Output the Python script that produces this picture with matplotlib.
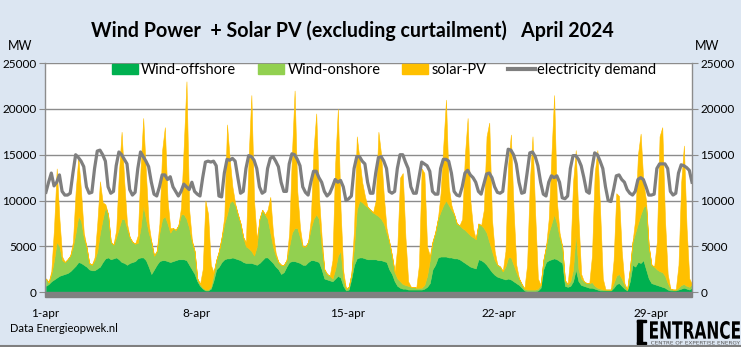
'''
Wind + solar production vs demand, April 2024 (3-hourly values read off the chart)
'''
import numpy as np
import matplotlib.pyplot as plt
from matplotlib.patches import Patch, Rectangle, PathPatch
from matplotlib.lines import Line2D
from matplotlib.textpath import TextPath
from matplotlib.font_manager import FontProperties
from matplotlib.transforms import Affine2D

plt.rcParams['font.family'] = ['Lato', 'DejaVu Sans']

# sample hours within each day
hours = [1, 4, 7, 10, 13, 16, 19, 22]
tick_days = [0, 7, 14, 21, 28]
tick_labels = ['1-apr', '8-apr', '15-apr', '22-apr', '29-apr']

# MW, one row per day (1..30 april), one column per sample hour
wind_offshore = [
    [700, 900, 1200, 1400, 1600, 1800, 1900, 2000],
    [2100, 2300, 2600, 2900, 3300, 3200, 3000, 2800],
    [2500, 2400, 2400, 2600, 2800, 3300, 3700, 3800],
    [3600, 3700, 3800, 3600, 3300, 3200, 3000, 3200],
    [3300, 3400, 3700, 3800, 3800, 3500, 2800, 2000],
    [2500, 3000, 3400, 3500, 3500, 3400, 3300, 3400],
    [3500, 3600, 3600, 3600, 3500, 3000, 2500, 2000],
    [1200, 700, 400, 200, 200, 400, 1300, 2500],
    [2800, 3300, 3600, 3700, 3700, 3800, 3700, 3600],
    [3500, 3300, 3200, 3200, 3200, 3100, 3000, 3200],
    [3500, 3800, 3800, 3500, 3200, 2800, 2500, 2000],
    [2200, 2800, 3300, 3400, 3400, 3300, 3200, 3000],
    [3000, 3300, 3500, 3500, 3400, 3300, 2500, 1500],
    [1400, 1300, 1200, 1500, 1800, 1600, 700, 200],
    [300, 1500, 3000, 3700, 3800, 3800, 3700, 3600],
    [3600, 3600, 3600, 3500, 3500, 3400, 3300, 2500],
    [2000, 1200, 700, 500, 400, 400, 300, 300],
    [300, 300, 300, 300, 400, 600, 1000, 2500],
    [3000, 3800, 3900, 3900, 3900, 3800, 3800, 3700],
    [3700, 3600, 3400, 3200, 3000, 2800, 2700, 2600],
    [3600, 3500, 3300, 3000, 2600, 2200, 1900, 1700],
    [1600, 1500, 1400, 1500, 1400, 1200, 1000, 800],
    [500, 200, 100, 100, 100, 100, 200, 500],
    [2500, 3300, 3500, 3600, 3700, 3600, 3400, 3200],
    [700, 600, 700, 1200, 2500, 1200, 800, 700],
    [600, 500, 500, 400, 300, 200, 200, 200],
    [200, 200, 500, 900, 1000, 700, 400, 200],
    [1200, 3000, 2800, 3300, 3200, 3500, 2500, 1500],
    [1000, 900, 800, 700, 600, 500, 300, 200],
    [200, 200, 300, 400, 500, 400, 300, 500],
]

wind_onshore = [
    [800, 200, 800, 2100, 3900, 3200, 1600, 1300],
    [1500, 1700, 2400, 3600, 5000, 4600, 3000, 2200],
    [700, 600, 1100, 1900, 3700, 4700, 5600, 4700],
    [1900, 1500, 2200, 3400, 4700, 4800, 4000, 2800],
    [2200, 1900, 1700, 3200, 5700, 4500, 3700, 3500],
    [1500, 1500, 3100, 4500, 4800, 4100, 3200, 3600],
    [3300, 3700, 4900, 4900, 4500, 4000, 3000, 2500],
    [300, 200, 100, 100, 100, 200, 700, 1000],
    [1700, 2700, 3900, 4800, 6100, 6200, 5800, 4900],
    [4000, 2700, 1800, 1600, 1300, 900, 2000, 4800],
    [5500, 4700, 4200, 3000, 1800, 1200, 800, 1000],
    [800, 700, 1700, 3100, 3600, 3700, 2800, 2000],
    [2000, 2200, 3500, 4500, 5100, 4700, 2500, 1000],
    [600, 500, 300, 1000, 2200, 2900, 800, 200],
    [300, 500, 2000, 5300, 6200, 6000, 5800, 5700],
    [5400, 5100, 4900, 4800, 4500, 4100, 3200, 3000],
    [2000, 1000, 800, 700, 500, 400, 400, 300],
    [300, 200, 200, 200, 400, 1200, 2500, 3000],
    [3500, 4200, 4900, 5600, 6100, 5700, 5200, 4800],
    [3800, 3700, 3600, 3600, 3500, 3400, 3300, 3200],
    [3900, 3800, 3700, 3500, 2900, 2300, 1600, 1300],
    [1200, 800, 1400, 2300, 2400, 1800, 1200, 700],
    [400, 200, 200, 200, 200, 200, 200, 300],
    [1000, 1700, 3000, 3900, 4800, 3900, 2600, 1800],
    [600, 300, 500, 1300, 4000, 1300, 700, 500],
    [400, 500, 600, 300, 200, 200, 100, 100],
    [100, 100, 500, 900, 1000, 800, 400, 100],
    [1300, 2500, 3700, 4200, 5300, 5800, 7000, 3500],
    [2000, 1900, 1700, 1600, 1600, 1300, 700, 200],
    [100, 100, 200, 400, 400, 300, 300, 400],
]

solar_pv = [
    [0, 0, 300, 3500, 8000, 3000, 400, 0],
    [0, 0, 500, 4500, 6400, 3200, 500, 0],
    [0, 0, 300, 3000, 5600, 1800, 300, 0],
    [0, 0, 800, 6000, 9500, 4000, 500, 0],
    [0, 0, 800, 6500, 9500, 5000, 1000, 0],
    [0, 0, 1000, 7500, 9700, 2500, 500, 0],
    [0, 0, 800, 7500, 15000, 2000, 200, 0],
    [0, 0, 2000, 9700, 8200, 2400, 200, 0],
    [0, 0, 800, 9800, 4700, 1500, 200, 0],
    [0, 0, 500, 10000, 17000, 6000, 800, 0],
    [0, 0, 1000, 3900, 1500, 300, 0, 0],
    [0, 0, 1500, 8500, 15000, 4000, 1000, 0],
    [0, 0, 1000, 7500, 11000, 2500, 1000, 0],
    [0, 0, 2000, 11500, 16000, 4500, 800, 0],
    [0, 0, 2000, 8000, 4500, 2200, 1000, 0],
    [0, 0, 1500, 9200, 7000, 3000, 500, 0],
    [0, 0, 3500, 11300, 12100, 5200, 500, 0],
    [0, 0, 2500, 13000, 12200, 3200, 500, 0],
    [0, 0, 2000, 6500, 11000, 2000, 500, 0],
    [0, 0, 1000, 8200, 12500, 3800, 1000, 0],
    [0, 0, 2000, 10500, 13000, 3500, 1000, 0],
    [0, 0, 1700, 10200, 13400, 6000, 800, 0],
    [0, 0, 2700, 11700, 16700, 8200, 1100, 0],
    [0, 0, 1500, 7500, 13000, 2500, 500, 0],
    [0, 0, 2800, 9500, 9000, 5500, 500, 0],
    [0, 0, 2900, 12300, 15000, 8600, 1200, 0],
    [0, 0, 2500, 9000, 8500, 3000, 200, 0],
    [0, 0, 1500, 7500, 8800, 2700, 500, 0],
    [0, 0, 3000, 14700, 15800, 6200, 1000, 0],
    [0, 0, 2500, 11200, 15100, 6300, 900, 0],
]

demand = [
    [10900, 12000, 13000, 11600, 12000, 12800, 11000, 10600],
    [10600, 10800, 13000, 15000, 14700, 14300, 13700, 11500],
    [10800, 10900, 13500, 15400, 15500, 15000, 14300, 11500],
    [10800, 11000, 13800, 15300, 15000, 14500, 14000, 11200],
    [10600, 10900, 13500, 15300, 14800, 14300, 13700, 12000],
    [10700, 10500, 11500, 12800, 12800, 12300, 12600, 11500],
    [11000, 10500, 11000, 11800, 11500, 11200, 12000, 11000],
    [10700, 10500, 12500, 14200, 14300, 14200, 14300, 13800],
    [10500, 10400, 13000, 14500, 14400, 14600, 14300, 12500],
    [10800, 11000, 13500, 14900, 14800, 14400, 13500, 11500],
    [10800, 11000, 13500, 14600, 14800, 14300, 13700, 12000],
    [11000, 11000, 14000, 15100, 15000, 14500, 13800, 11500],
    [10900, 10600, 12000, 13200, 13200, 12500, 12000, 11000],
    [10500, 10800, 11500, 12300, 12000, 12200, 11500, 10000],
    [10200, 10500, 13500, 14800, 14800, 14300, 14000, 12000],
    [10800, 10800, 13000, 14700, 14800, 14300, 13500, 11000],
    [10800, 11000, 13500, 15000, 15000, 14200, 13500, 11500],
    [10800, 10800, 12500, 14200, 14000, 13800, 13200, 11000],
    [10700, 10700, 13500, 14500, 14500, 14300, 13000, 11000],
    [10600, 10500, 11500, 13000, 13300, 12800, 12500, 12000],
    [11000, 10700, 11800, 12900, 13000, 12500, 11500, 10900],
    [10800, 11000, 13500, 15600, 15500, 15000, 14000, 12000],
    [10800, 10900, 13000, 15200, 15300, 14800, 13800, 12000],
    [10700, 10500, 12000, 12700, 12500, 12700, 12000, 10300],
    [10200, 10500, 13500, 14900, 14900, 14500, 13800, 12500],
    [11000, 10800, 13500, 15200, 15000, 14300, 13500, 11500],
    [10000, 9900, 11200, 12700, 12800, 12300, 12000, 11200],
    [10800, 10600, 11000, 12300, 12500, 12300, 11500, 10600],
    [10600, 10700, 13500, 14000, 14000, 14000, 13500, 11000],
    [10600, 10800, 13000, 13900, 13800, 13600, 13300, 12000],
]

C_OFF = '#00B050'
C_ON = '#92D050'
C_SOLAR = '#FFC000'
C_DEMAND = '#7F7F7F'
BG = '#DCE6F2'

W, H = 741, 347


def flat(rows):
    '''
    Turn the day x hour table into one series
    '''
    return np.array(rows, dtype=float).ravel()


def fitted_text(fig, s, left, top, width, height, prop, color):
    '''
    Draw a text squeezed into a box given in pixels from the top-left corner
    '''
    path = TextPath((0, 0), s, size=10, prop=prop)
    bb = path.get_extents()
    tr = (Affine2D().translate(-bb.x0, -bb.y0)
          .scale(width / bb.width, height / bb.height)
          .translate(left, H - top - height)
          .scale(1.0 / W, 1.0 / H))
    fig.add_artist(PathPatch(path, transform=tr + fig.transFigure,
                             color=color, lw=0))


t = (np.arange(len(demand))[:, None] + np.array(hours)[None, :] / 24.0).ravel()

fig = plt.figure(figsize=(W / 100, H / 100), dpi=100, facecolor=BG)
ax = fig.add_axes([45 / W, (H - 292.3) / H, 647 / W, 229.3 / H])
ax.set_facecolor('white')

ax.stackplot(t, flat(wind_offshore), flat(wind_onshore), flat(solar_pv),
             colors=[C_OFF, C_ON, C_SOLAR], edgecolor='face', linewidth=0.4)
ax.plot(t, flat(demand), color=C_DEMAND, lw=2.3, solid_joinstyle='round')

ax.set_xlim(t[0], t[-1])
ax.set_ylim(0, 25000)
ax.set_yticks(range(0, 25001, 5000))
ax.set_xticks(tick_days)
ax.set_xticklabels(tick_labels)
ax.set_axisbelow(True)
ax.grid(axis='y', color='#8C8C8C', lw=1.0)
ax.grid(axis='x', visible=False)

for side in ['left', 'right']:
    ax.spines[side].set_color('#8C8C8C')
    ax.spines[side].set_linewidth(1.0)
ax.spines['top'].set_visible(False)
ax.spines['bottom'].set_visible(False)

# thick grey base under the zero line
ax.add_patch(Rectangle((0, -0.022), 1, 0.022, transform=ax.transAxes,
                       color='#808080', clip_on=False, zorder=5))

ax.tick_params(axis='y', which='both', direction='out', length=4, color='#8C8C8C',
               labelsize=8.5, pad=2, labelright=True, right=True)
ax.tick_params(axis='x', length=0, labelsize=8.5, pad=11)

fig.text(352 / W, 1 - 31 / H, 'Wind Power  + Solar PV (excluding curtailment)   April 2024',
         ha='center', va='center', fontsize=14.1, fontweight='bold')
fig.text(20 / W, 1 - 46 / H, 'MW', ha='center', va='center', fontsize=9)
fig.text(707 / W, 1 - 46 / H, 'MW', ha='center', va='center', fontsize=9)

handles = [Patch(color=C_OFF), Patch(color=C_ON), Patch(color=C_SOLAR),
           Line2D([], [], color=C_DEMAND, lw=3)]
labels = ['Wind-offshore', 'Wind-onshore', 'solar-PV', 'electricity demand']
ax.legend(handles, labels, ncol=4, loc='center left',
          bbox_to_anchor=(112 / W, 1 - 70 / H), bbox_transform=fig.transFigure,
          frameon=False, fontsize=10.5, handlelength=1.8, handleheight=0.65,
          handletextpad=0.2, columnspacing=1.5, borderpad=0, borderaxespad=0)

fig.text(10 / W, 1 - 328 / H, 'Data Energieopwek.nl', ha='left', va='center', fontsize=8)

# logo at the bottom right
fig.add_artist(Rectangle((637 / W, 1 - 344 / H), 5 / W, 24 / H, color='black'))
fig.add_artist(Rectangle((637 / W, 1 - 322 / H), 9 / W, 2 / H, color='black'))
fig.add_artist(Rectangle((637 / W, 1 - 344 / H), 9 / W, 2 / H, color='black'))
bold_narrow = FontProperties(family=['Liberation Sans Narrow', 'DejaVu Sans'], weight='bold')
fitted_text(fig, 'ENTRANCE', 650, 321, 90, 18, bold_narrow, 'black')
fitted_text(fig, 'CENTRE OF EXPERTISE ENERGY', 651, 341, 89, 3.5,
            FontProperties(family='DejaVu Sans'), '#555555')
fig.add_artist(Line2D([0, 1], [1 - 345.5 / H, 1 - 345.5 / H], color='#7F7F7F', lw=1.5))

fig.savefig('out.png', dpi=100, facecolor=BG)
